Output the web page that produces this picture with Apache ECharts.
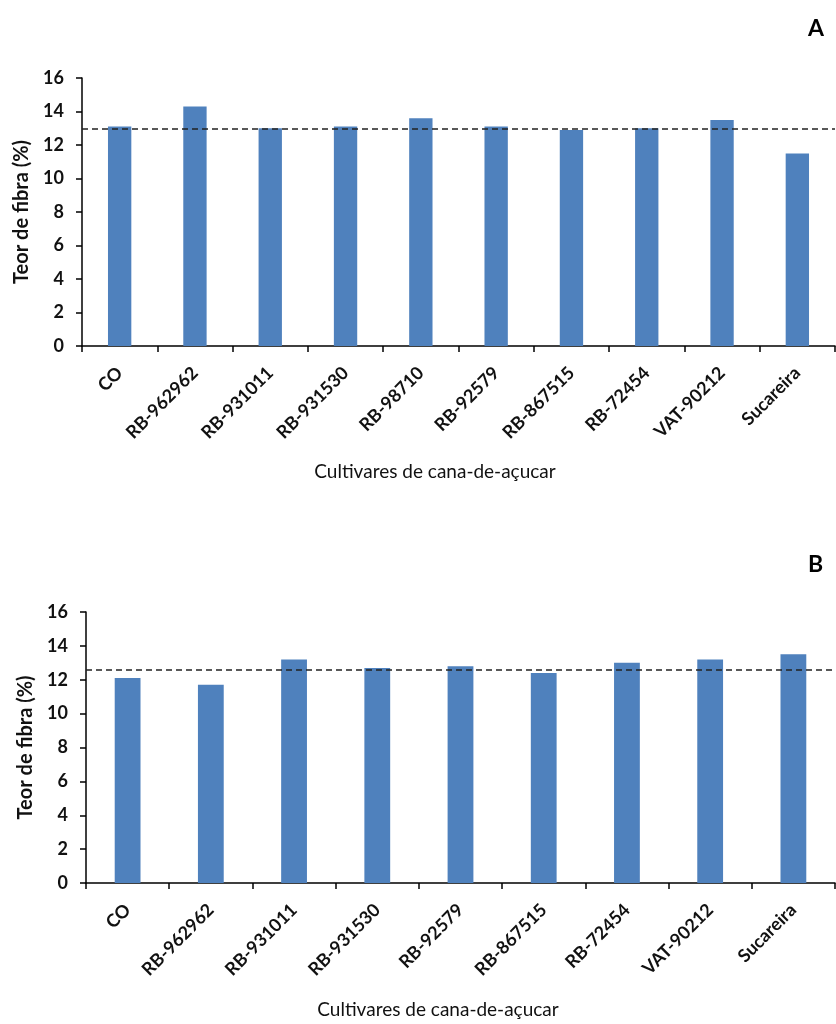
<!DOCTYPE html>
<html><head><meta charset="utf-8">
<script src="https://cdn.jsdelivr.net/npm/echarts@6/dist/echarts.min.js"></script>
<style>html,body{margin:0;padding:0;background:#fff}#c{width:836px;height:1024px}</style>
</head><body><div id="c"></div>
<script>
const categoriesA = ['CO','RB-962962','RB-931011','RB-931530','RB-98710','RB-92579','RB-867515','RB-72454','VAT-90212','Sucareira'];
const valuesA = [13.1, 14.3, 13.0, 13.1, 13.6, 13.1, 12.9, 13.0, 13.5, 11.5];
const meanA = 13.0;
const categoriesB = ['CO','RB-962962','RB-931011','RB-931530','RB-92579','RB-867515','RB-72454','VAT-90212','Sucareira'];
const valuesB = [12.1, 11.7, 13.2, 12.7, 12.8, 12.4, 13.0, 13.2, 13.5];
const meanB = 12.6;
const yMin = 0, yMax = 16, yStep = 2;
const yName = 'Teor de fibra (%)';
const xName = 'Cultivares de cana-de-açucar';
const panelLabels = ['A', 'B'];

const FONT = 'Lato';
const chart = echarts.init(document.getElementById('c'));

function xAxisFor(gridIndex, cats) {
  return {
    type: 'category', gridIndex, data: cats,
    axisLine: {lineStyle: {color: '#000', width: 1.5}},
    axisTick: {show: true, alignWithLabel: false, length: 6, inside: false, lineStyle: {color: '#000', width: 1.5}},
    axisLabel: {rotate: 45, interval: 0, margin: 24, color: '#111', fontFamily: FONT, fontWeight: 'bold', fontSize: 18},
    splitLine: {show: false}
  };
}
function yAxisFor(gridIndex) {
  return {
    type: 'value', gridIndex, min: yMin, max: yMax, interval: yStep,
    name: yName, nameLocation: 'middle', nameGap: 50, nameRotate: 90,
    nameTextStyle: {color: '#111', fontFamily: FONT, fontWeight: 'bold', fontSize: 20},
    axisLine: {show: true, lineStyle: {color: '#000', width: 1.5}},
    axisTick: {show: true, length: 6, lineStyle: {color: '#000', width: 1.5}},
    axisLabel: {color: '#111', fontFamily: FONT, fontWeight: 'bold', fontSize: 18, margin: 18},
    splitLine: {show: false}
  };
}
function barSeries(idx, vals, mean) {
  return {
    type: 'bar', xAxisIndex: idx, yAxisIndex: idx, data: vals, barWidth: '31%',
    itemStyle: {color: '#4F81BD'},
    markLine: {
      silent: true, symbol: 'none', label: {show: false},
      lineStyle: {color: '#222', type: [6, 4], width: 1.5},
      data: [{yAxis: mean}]
    }
  };
}

chart.setOption({
  animation: false,
  backgroundColor: '#fff',
  grid: [
    {left: 82, right: 1, top: 78, height: 268},
    {left: 86, right: 1, top: 612, height: 271}
  ],
  xAxis: [xAxisFor(0, categoriesA), xAxisFor(1, categoriesB)],
  yAxis: [yAxisFor(0), yAxisFor(1)],
  series: [barSeries(0, valuesA, meanA), barSeries(1, valuesB, meanB)],
  graphic: [
    {type: 'text', left: 808, top: 17, style: {text: panelLabels[0], font: 'bold 23px ' + FONT, fill: '#000'}},
    {type: 'text', left: 808, top: 553, style: {text: panelLabels[1], font: 'bold 23px ' + FONT, fill: '#000'}},
    {type: 'text', x: 435, y: 472, style: {text: xName, font: '19px ' + FONT, fill: '#111', textAlign: 'center', textVerticalAlign: 'middle'}},
    {type: 'text', x: 438, y: 1010, style: {text: xName, font: '19px ' + FONT, fill: '#111', textAlign: 'center', textVerticalAlign: 'middle'}}
  ]
});
</script></body></html>
